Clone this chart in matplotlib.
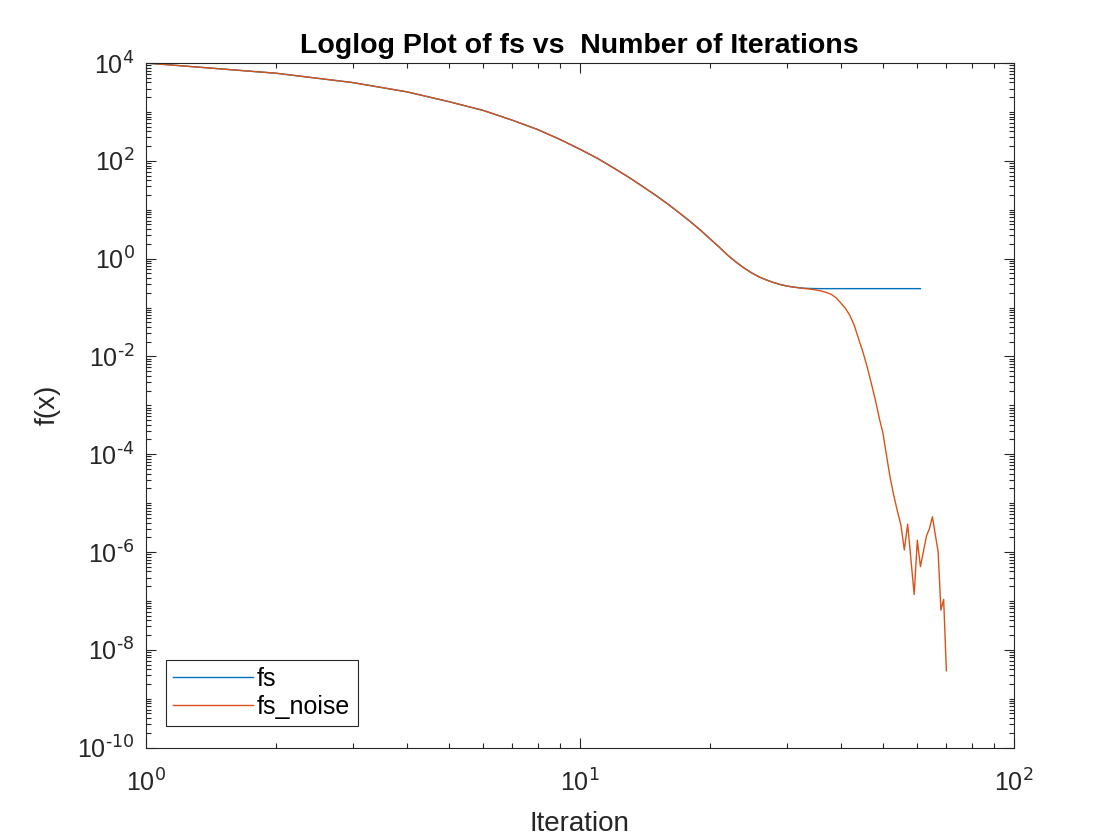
import matplotlib
matplotlib.use('Agg')
import matplotlib.pyplot as plt
from matplotlib.ticker import LogLocator, FixedLocator, FuncFormatter, NullFormatter
import numpy as np

plt.rcParams['font.family'] = ['Liberation Sans', 'DejaVu Sans']
plt.rcParams['axes.unicode_minus'] = False
plt.rcParams['mathtext.default'] = 'regular'

# values, one per iteration
fs = [1.0e4, 6.17e3, 3.98e3, 2.57e3, 1.62e3, 1.07e3, 676, 437, 275, 174,
      112, 70.8, 45.7, 29.5, 19.5, 12.9, 8.51, 5.69, 3.80, 2.51,
      1.70, 1.15, 0.832, 0.631, 0.501, 0.417, 0.363, 0.324, 0.295, 0.275,
      0.263, 0.254, 0.248, 0.245, 0.244, 0.243, 0.243, 0.243, 0.243, 0.243,
      0.243, 0.243, 0.243, 0.243, 0.243, 0.243, 0.243, 0.243, 0.243, 0.243,
      0.243, 0.243, 0.243, 0.243, 0.243, 0.243, 0.243, 0.243, 0.243, 0.243,
      0.243]
fs_noise = [1.0e4, 6.17e3, 3.98e3, 2.57e3, 1.62e3, 1.07e3, 676, 437, 275, 174,
            112, 70.8, 45.7, 29.5, 19.5, 12.9, 8.51, 5.69, 3.80, 2.51,
            1.70, 1.15, 0.832, 0.631, 0.501, 0.417, 0.363, 0.324, 0.295, 0.275,
            0.263, 0.252, 0.244, 0.238, 0.229, 0.218, 0.204, 0.186, 0.158, 0.123,
            0.0955, 0.0676, 0.0417, 0.0219, 0.0120, 6.03e-3, 2.82e-3, 1.32e-3, 5.62e-4, 2.69e-4,
            8.9e-5, 3.16e-5, 1.38e-5, 6.76e-6, 3.55e-6, 1.10e-6, 3.72e-6, 7.08e-7, 1.35e-7, 1.74e-6,
            5.01e-7, 1.05e-6, 2.14e-6, 3.02e-6, 5.25e-6, 2.29e-6, 1.02e-6, 6.46e-8, 1.07e-7, 3.72e-9]

it_fs = np.arange(1, len(fs) + 1)
it_noise = np.arange(1, len(fs_noise) + 1)

fig = plt.figure(figsize=(11.2, 8.4), dpi=100)
ax = fig.add_axes([0.13, 0.11, 0.775, 0.815])

ax.loglog(it_fs, fs, color='#0072BD', lw=1.0, label='fs')
ax.loglog(it_noise, fs_noise, color='#D95319', lw=1.0, label='fs_noise')

ax.set_xlim(1, 100)
ax.set_ylim(1e-10, 1e4)

fmt = FuncFormatter(lambda v, p: r'$10^{\text{%d}}$' % int(round(np.log10(v))))
ax.xaxis.set_major_locator(FixedLocator([1, 10, 100]))
ax.xaxis.set_minor_locator(LogLocator(base=10, subs=np.arange(2, 10), numticks=10))
ax.xaxis.set_major_formatter(fmt)
ax.xaxis.set_minor_formatter(NullFormatter())
ax.yaxis.set_major_locator(FixedLocator([1e-10, 1e-8, 1e-6, 1e-4, 1e-2, 1e0, 1e2, 1e4]))
ax.yaxis.set_minor_locator(LogLocator(base=10, subs=np.arange(1, 10), numticks=30))
ax.yaxis.set_major_formatter(fmt)
ax.yaxis.set_minor_formatter(NullFormatter())

ax.tick_params(which='both', direction='in', top=True, right=True, labelsize=18, width=0.8,
               colors='#262626', labelcolor='#262626')
ax.tick_params(which='major', length=7)
ax.tick_params(which='minor', length=3.5)
ax.tick_params(axis='x', pad=16)
ax.tick_params(axis='y', pad=8)
for s in ax.spines.values():
    s.set_linewidth(0.8)
    s.set_color('#262626')

ax.set_title('Loglog Plot of fs vs  Number of Iterations', fontsize=20.5, fontweight='bold', pad=7)
ax.set_xlabel('Iteration', fontsize=20, labelpad=10, color='#262626')
ax.set_ylabel('f(x)', fontsize=20, labelpad=12, color='#262626')

leg = ax.legend(loc='lower left', bbox_to_anchor=(0.023, 0.031), fontsize=18, frameon=True,
                fancybox=False, edgecolor='#262626', framealpha=1, handlelength=3.2,
                handletextpad=0.15, borderpad=0.3, labelspacing=0.15, borderaxespad=0)
leg.get_frame().set_linewidth(0.8)

fig.savefig('out.png', dpi=100)
